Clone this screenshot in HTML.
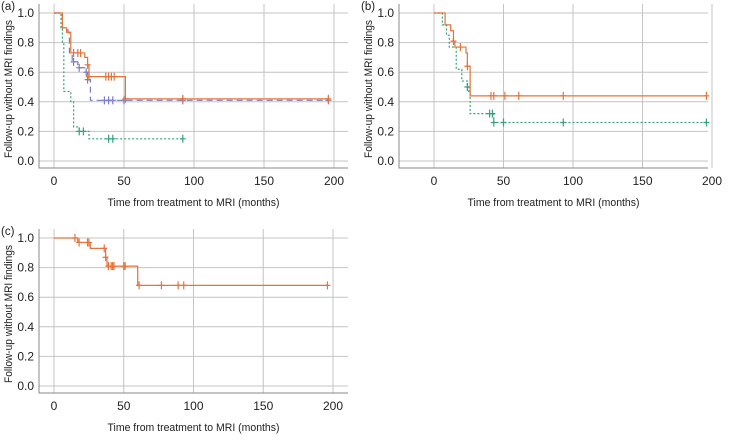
<!DOCTYPE html>
<html><head><meta charset="utf-8"><style>
body{margin:0;background:#fff;width:729px;height:436px;overflow:hidden}
svg{font-family:"Liberation Sans",sans-serif}
</style></head><body>
<svg id="svg" width="729" height="436"></svg>
<script>
// Panel (a)
const aOrangeT=[0,6,9,12,22,24,25,51,196];
const aOrangeS=[1,0.9,0.87,0.73,0.7,0.65,0.57,0.42,0.42];
const aOrangeC=[14,17,19,24,25,37,39,41,43,51,92,196];
const aPurpleT=[0,6,10,11,13,17,23,24,26,196];
const aPurpleS=[1,0.9,0.87,0.73,0.67,0.63,0.6,0.55,0.41,0.41];
const aPurpleC=[14,18,23,24,36,39,42,50,92,196];
const aGreenT=[0,5,6,7,12,14,18,25,93];
const aGreenS=[1,0.9,0.8,0.47,0.4,0.23,0.2,0.15,0.15];
const aGreenC=[18,21,39,42,92];
// Panel (b)
const bOrangeT=[0,8,12,14,15,23,24,26,196];
const bOrangeS=[1,0.92,0.88,0.81,0.77,0.73,0.64,0.44,0.44];
const bOrangeC=[14,19,24,41,43,51,61,93,196];
const bGreenT=[0,6,9,11,16,20,24,25,26,43,196];
const bGreenS=[1,0.92,0.85,0.77,0.62,0.54,0.5,0.47,0.32,0.26,0.26];
const bGreenC=[24,40,42,43,50,93,196];
// Panel (c)
const cOrangeT=[0,17,26,37,38,60,196];
const cOrangeS=[1,0.97,0.93,0.87,0.81,0.68,0.68];
const cOrangeC=[15,18,24,25,36,37,39,41,42,43,50,51,61,77,89,93,196];
const xTicks=[0,50,100,150,200];
const yTicks=[0,0.2,0.4,0.6,0.8,1.0];

const NS="http://www.w3.org/2000/svg";
const svg=document.getElementById('svg');
function mk(tag,attrs,parent){const e=document.createElementNS(NS,tag);for(const k in attrs)e.setAttribute(k,attrs[k]);(parent||svg).appendChild(e);return e;}

function panel(name,label,ox,oy,x0,x200,series){
  const g=mk('g',{});
  
  
  const X=v=>x0+(x200-x0)*v/200;
  const Y=v=>oy+161-148*v;
  const left=ox+39,right=ox+348,top=oy+4,bottom=oy+168;
  yTicks.forEach(t=>{const l=mk('line',{x1:left,x2:right,y1:Y(t),y2:Y(t),stroke:'#c4c4c4','stroke-width':1},g);
    
    
    const tx=mk('text',{x:left-5,y:Y(t)+4,'text-anchor':'end','font-size':12,fill:'#222'},g);tx.textContent=t.toFixed(1);
    
    });
  xTicks.forEach(t=>{const l=mk('line',{x1:X(t),x2:X(t),y1:top,y2:bottom,stroke:'#c4c4c4','stroke-width':1},g);
    
    
    const tx=mk('text',{x:X(t),y:bottom+17,'text-anchor':'middle','font-size':12,fill:'#222'},g);tx.textContent=t;
    
    });
  const ax=mk('path',{d:`M${left},${top}V${bottom}H${right}`,stroke:'#888',fill:'none','stroke-width':1},g);
  
  
  const xt=mk('text',{x:(left+right)/2,y:bottom+38,'text-anchor':'middle','font-size':11,fill:'#222',textLength:172,lengthAdjust:'spacingAndGlyphs'},g);xt.textContent='Time from treatment to MRI (months)';
  
  
  const cy=oy+89,cx=ox+12;
  const yt=mk('text',{x:cx,y:cy,'text-anchor':'middle','font-size':11,fill:'#222',textLength:138,lengthAdjust:'spacingAndGlyphs',transform:`rotate(-90 ${cx} ${cy})`},g);yt.textContent='Follow-up without MRI findings';
  
  
  const lb=mk('text',{x:ox+1,y:oy+10,'font-size':11.5,fill:'#222'},g);lb.textContent=label;
  
  
  series.forEach(s=>{
    let d=`M${X(s.t[0])},${Y(s.s[0])}`;
    for(let i=1;i<s.t.length;i++){d+=`H${X(s.t[i])}V${Y(s.s[i])}`;}
    const p=mk('path',{d:d,fill:'none',stroke:s.color,'stroke-width':1.2,'stroke-dasharray':s.dash||'none'},g);
    
    
    s.c.forEach(ct=>{let v=s.s[0];for(let i=0;i<s.t.length;i++){if(s.t[i]<=ct)v=s.s[i];}
      const m=mk('path',{d:`M${X(ct)},${Y(v)-4}v8M${X(ct)-3},${Y(v)}h6`,stroke:s.color,'stroke-width':1.2},g);
      
      });
  });
}
const OR='#e5733a',PU='#7d7dc2',GR='#35a27c';
panel('a','(a)',0,0,54,334,[
 {name:'green',t:aGreenT,s:aGreenS,c:aGreenC,color:GR,dash:'2,2'},
 {name:'purple',t:aPurpleT,s:aPurpleS,c:aPurpleC,color:PU,dash:'6,4'},
 {name:'orange',t:aOrangeT,s:aOrangeS,c:aOrangeC,color:OR}]);
panel('b','(b)',360,0,434,712,[
 {name:'green',t:bGreenT,s:bGreenS,c:bGreenC,color:GR,dash:'2,2'},
 {name:'orange',t:bOrangeT,s:bOrangeS,c:bOrangeC,color:OR}]);
panel('c','(c)',0,225,54,333,[
 {name:'orange',t:cOrangeT,s:cOrangeS,c:cOrangeC,color:OR}]);
</script>
</body></html>
